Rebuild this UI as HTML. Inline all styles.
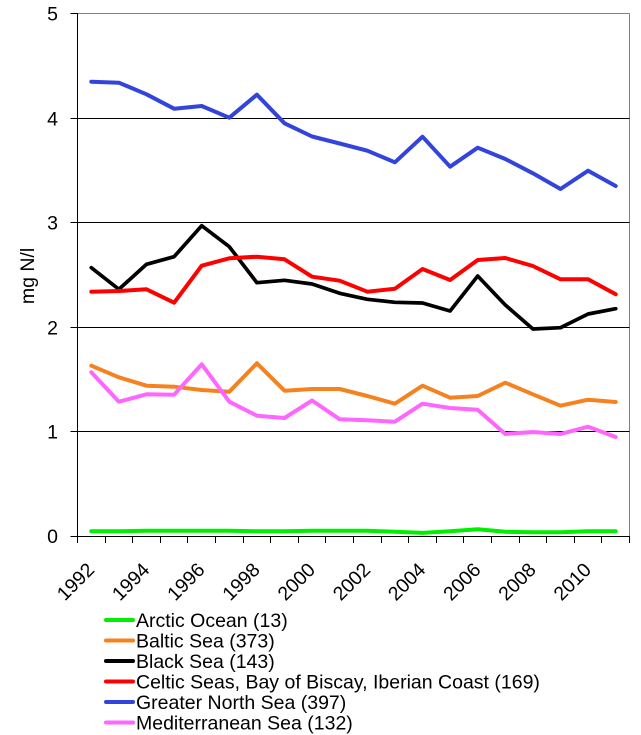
<!DOCTYPE html>
<html>
<head>
<meta charset="utf-8">
<style>
  html, body { margin:0; padding:0; background:#ffffff; }
  svg { display:block; }
  text { font-family: "Liberation Sans", Arial, sans-serif; fill:#000; }
</style>
</head>
<body>
<svg width="641" height="735" viewBox="0 0 641 735" xmlns="http://www.w3.org/2000/svg">
  <rect x="0" y="0" width="641" height="735" fill="#ffffff"/>

  <!-- gridlines -->
  <line x1="77.5" y1="13.5" x2="629.5" y2="13.5" stroke="#808080" stroke-width="1"/>
  <line x1="629.5" y1="13.5" x2="629.5" y2="536.5" stroke="#808080" stroke-width="1"/>
  <line x1="77.5" y1="118.5" x2="629.5" y2="118.5" stroke="#000" stroke-width="1"/>
  <line x1="77.5" y1="222.5" x2="629.5" y2="222.5" stroke="#000" stroke-width="1"/>
  <line x1="77.5" y1="327.5" x2="629.5" y2="327.5" stroke="#000" stroke-width="1"/>
  <line x1="77.5" y1="431.5" x2="629.5" y2="431.5" stroke="#000" stroke-width="1"/>

  <!-- axes -->
  <line x1="77.5" y1="13" x2="77.5" y2="537" stroke="#000" stroke-width="1"/>
  <line x1="70.5" y1="536.5" x2="630" y2="536.5" stroke="#000" stroke-width="1"/>

  <!-- y ticks -->
  <g stroke="#000" stroke-width="1">
    <line x1="70.5" y1="13.5" x2="77.5" y2="13.5"/>
    <line x1="70.5" y1="118.5" x2="77.5" y2="118.5"/>
    <line x1="70.5" y1="222.5" x2="77.5" y2="222.5"/>
    <line x1="70.5" y1="327.5" x2="77.5" y2="327.5"/>
    <line x1="70.5" y1="431.5" x2="77.5" y2="431.5"/>
  </g>

  <!-- x ticks -->
  <g stroke="#000" stroke-width="1">
    <line x1="77.5" y1="536" x2="77.5" y2="543"/>
    <line x1="105.5" y1="536" x2="105.5" y2="543"/>
    <line x1="132.5" y1="536" x2="132.5" y2="543"/>
    <line x1="160.5" y1="536" x2="160.5" y2="543"/>
    <line x1="187.5" y1="536" x2="187.5" y2="543"/>
    <line x1="215.5" y1="536" x2="215.5" y2="543"/>
    <line x1="243.5" y1="536" x2="243.5" y2="543"/>
    <line x1="270.5" y1="536" x2="270.5" y2="543"/>
    <line x1="298.5" y1="536" x2="298.5" y2="543"/>
    <line x1="325.5" y1="536" x2="325.5" y2="543"/>
    <line x1="353.5" y1="536" x2="353.5" y2="543"/>
    <line x1="381.5" y1="536" x2="381.5" y2="543"/>
    <line x1="408.5" y1="536" x2="408.5" y2="543"/>
    <line x1="436.5" y1="536" x2="436.5" y2="543"/>
    <line x1="463.5" y1="536" x2="463.5" y2="543"/>
    <line x1="491.5" y1="536" x2="491.5" y2="543"/>
    <line x1="519.5" y1="536" x2="519.5" y2="543"/>
    <line x1="546.5" y1="536" x2="546.5" y2="543"/>
    <line x1="574.5" y1="536" x2="574.5" y2="543"/>
    <line x1="601.5" y1="536" x2="601.5" y2="543"/>
    <line x1="629.5" y1="536" x2="629.5" y2="543"/>
  </g>

  <!-- y labels -->
  <g font-size="19.5" text-anchor="end">
    <text x="58" y="20.5">5</text>
    <text x="58" y="125.5">4</text>
    <text x="58" y="229.5">3</text>
    <text x="58" y="334.5">2</text>
    <text x="58" y="438.5">1</text>
    <text x="58" y="543">0</text>
  </g>

  <!-- y title -->
  <text font-size="19.5" text-anchor="middle" transform="translate(34,276) rotate(-90)">mg N/l</text>

  <!-- x labels -->
  <g font-size="19.5" text-anchor="end">
    <text x="95.5" y="571" transform="rotate(-45 95.5 571)">1992</text>
    <text x="150.7" y="571" transform="rotate(-45 150.7 571)">1994</text>
    <text x="205.9" y="571" transform="rotate(-45 205.9 571)">1996</text>
    <text x="261.1" y="571" transform="rotate(-45 261.1 571)">1998</text>
    <text x="316.3" y="571" transform="rotate(-45 316.3 571)">2000</text>
    <text x="371.5" y="571" transform="rotate(-45 371.5 571)">2002</text>
    <text x="426.7" y="571" transform="rotate(-45 426.7 571)">2004</text>
    <text x="481.9" y="571" transform="rotate(-45 481.9 571)">2006</text>
    <text x="537.1" y="571" transform="rotate(-45 537.1 571)">2008</text>
    <text x="592.3" y="571" transform="rotate(-45 592.3 571)">2010</text>
  </g>

  <!-- series -->
  <g fill="none" stroke-width="4" stroke-linejoin="round" stroke-linecap="round">
    <!-- Arctic Ocean -->
    <polyline stroke="#00ee00" points="91.3,531.3 118.9,531.3 146.5,530.8 174.1,530.8 201.7,530.8 229.3,530.8 256.9,531.3 284.5,531.3 312.1,530.8 339.7,530.8 367.3,530.8 394.9,531.8 422.5,532.9 450.1,531.3 477.7,529.2 505.3,531.8 532.9,532.3 560.5,532.3 588.1,531.3 615.7,531.3"/>
    <!-- Baltic Sea -->
    <polyline stroke="#f5821f" points="91.3,365.7 118.9,377.3 146.5,385.7 174.1,386.7 201.7,390 229.3,391.7 256.9,363.3 284.5,390.7 312.1,389 339.7,389 367.3,396 394.9,403.7 422.5,385.7 450.1,397.7 477.7,396 505.3,382.7 532.9,394.3 560.5,405.7 588.1,399.7 615.7,402"/>
    <!-- Black Sea -->
    <polyline stroke="#000000" stroke-width="3.7" points="91.3,267.7 118.9,289.3 146.5,264.3 174.1,256.7 201.7,225.7 229.3,246.7 256.9,282.7 284.5,280.3 312.1,284 339.7,293.3 367.3,299.3 394.9,302.3 422.5,303 450.1,311 477.7,276 505.3,305 532.9,329 560.5,327.7 588.1,314 615.7,308.7"/>
    <!-- Celtic Seas -->
    <polyline stroke="#ff0000" points="91.3,291.7 118.9,291 146.5,289.3 174.1,302.7 201.7,265.7 229.3,258.3 256.9,256.7 284.5,259.3 312.1,276.7 339.7,280.7 367.3,291.7 394.9,288.7 422.5,269 450.1,280 477.7,260 505.3,258 532.9,266 560.5,279.3 588.1,279.3 615.7,294.3"/>
    <!-- Greater North Sea -->
    <polyline stroke="#3344dd" points="91.3,81.7 118.9,82.7 146.5,94.3 174.1,108.7 201.7,106 229.3,117.7 256.9,94.7 284.5,123.3 312.1,136.5 339.7,143.5 367.3,150.7 394.9,162.3 422.5,136.7 450.1,166.7 477.7,147.7 505.3,159 532.9,173.3 560.5,189 588.1,170.7 615.7,186"/>
    <!-- Mediterranean Sea -->
    <polyline stroke="#ff66ff" points="91.3,372.3 118.9,401.7 146.5,394.3 174.1,394.7 201.7,364.3 229.3,401.7 256.9,415.7 284.5,418 312.1,400.5 339.7,419.3 367.3,420.3 394.9,421.7 422.5,403.7 450.1,408 477.7,409.7 505.3,434 532.9,432 560.5,434 588.1,426.7 615.7,437"/>
  </g>

  <!-- legend -->
  <g stroke-width="4" stroke-linecap="round">
    <line x1="106" y1="620" x2="133" y2="620" stroke="#00ee00"/>
    <line x1="106" y1="640.5" x2="133" y2="640.5" stroke="#f5821f"/>
    <line x1="106" y1="661" x2="133" y2="661" stroke="#000000"/>
    <line x1="106" y1="681.5" x2="133" y2="681.5" stroke="#ff0000"/>
    <line x1="106" y1="702" x2="133" y2="702" stroke="#3344dd"/>
    <line x1="106" y1="722.5" x2="133" y2="722.5" stroke="#ff66ff"/>
  </g>
  <g font-size="19.5">
    <text x="136" y="627">Arctic Ocean (13)</text>
    <text x="136" y="647.5">Baltic Sea (373)</text>
    <text x="136" y="668">Black Sea (143)</text>
    <text x="136" y="688.5">Celtic Seas, Bay of Biscay, Iberian Coast (169)</text>
    <text x="136" y="709">Greater North Sea (397)</text>
    <text x="136" y="729.5">Mediterranean Sea (132)</text>
  </g>
</svg>
</body>
</html>
